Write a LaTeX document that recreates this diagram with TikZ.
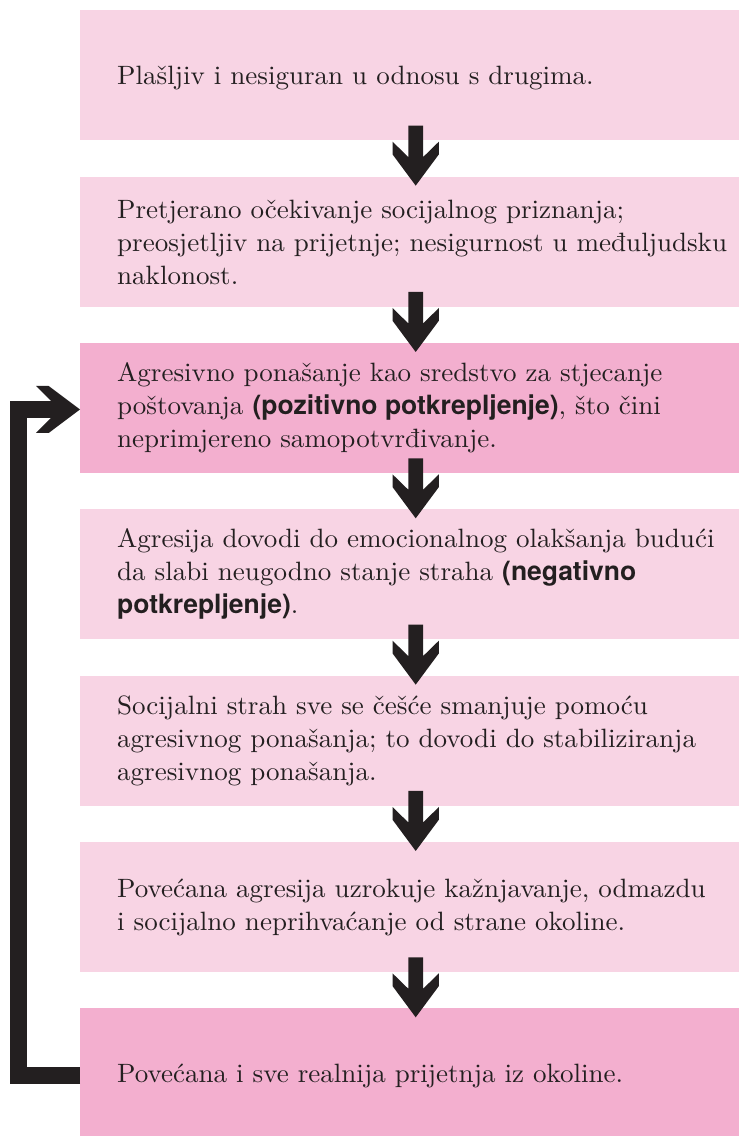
\documentclass[tikz,border=0pt]{standalone}
\usepackage{fontspec}
\setmainfont{lmroman10-regular.otf}[FakeStretch=1.02]
\newfontfamily\hsans{TeX Gyre Heros}
\usetikzlibrary{calc}
\definecolor{ink}{HTML}{231F20}
\definecolor{pinkL}{HTML}{F8D4E4}
\definecolor{pinkD}{HTML}{F3AFCF}
\newcommand{\bsx}[1]{{\hsans\bfseries #1}}
\tikzset{
  stagebox/.style={rectangle, draw=none, inner sep=0pt, anchor=north west,
    minimum width=659pt, minimum height=130pt},
  stagetext/.style={anchor=west, inner sep=0pt, align=left, text=ink,
    font=\fontsize{26.5}{33}\selectfont},
  downarr/.pic={\fill[ink] (-7.35,-60) -- (-7.35,-28.5) -- (-23.2,-44) -- (-23.2,-31.3)
      -- (0,0) -- (23.2,-31.3) -- (23.2,-44) -- (7.35,-28.5) -- (7.35,-60) -- cycle;},
  rightarr/.pic={\fill[ink] (-44,-23.5) -- (-31.3,-23.5) -- (0,0) -- (-31.3,23.5)
      -- (-44,23.5) -- (-28.85,8.35) -- (-28.85,-8.35) -- cycle;}
}
\begin{document}
\begin{tikzpicture}[x=1pt,y=-1pt]
\useasboundingbox (0,0) rectangle (739,1136);
\node[stagebox, fill=pinkL] (b1) at (80,10) {};
\node[stagebox, fill=pinkL] (b2) at (80,176.33) {};
\node[stagebox, fill=pinkD] (b3) at (80,342.67) {};
\node[stagebox, fill=pinkL] (b4) at (80,509) {};
\node[stagebox, fill=pinkL] (b5) at (80,675.33) {};
\node[stagebox, fill=pinkL] (b6) at (80,841.67) {};
\node[stagebox, fill=pinkD] (b7) at (80,1008) {};

\node[stagetext] (t1) at ($(b1.west)+(37,3)$) {Plašljiv i nesiguran u odnosu s drugima.};
\node[stagetext] (t2) at ($(b2.west)+(37,1)$) {Pretjerano očekivanje socijalnog priznanja;\\ preosjetljiv na prijetnje; nesigurnost u međuljudsku\\ naklonost.};
\node[stagetext] (t3) at ($(b3.west)+(37,0)$) {Agresivno ponašanje kao sredstvo za stjecanje\\ poštovanja \bsx{(pozitivno potkrepljenje)}, što čini\\ neprimjereno samopotvrđivanje.};
\node[stagetext] (t4) at ($(b4.west)+(37,0)$) {Agresija dovodi do emocionalnog olakšanja budući\\ da slabi neugodno stanje straha \bsx{(negativno}\\ \bsx{potkrepljenje)}.};
\node[stagetext] (t5) at ($(b5.west)+(37,0)$) {Socijalni strah sve se češće smanjuje pomoću\\ agresivnog ponašanja; to dovodi do stabiliziranja\\ agresivnog ponašanja.};
\node[stagetext] (t6) at ($(b6.west)+(37,1)$) {Povećana agresija uzrokuje kažnjavanje, odmazdu\\ i socijalno neprihvaćanje od strane okoline.};
\node[stagetext] (t7) at ($(b7.west)+(37,3)$) {Povećana i sve realnija prijetnja iz okoline.};

\pic at ($(b2.north)+(6,9.3)$) {downarr};
\pic at ($(b3.north)+(6,9.3)$) {downarr};
\pic at ($(b4.north)+(6,9.3)$) {downarr};
\pic at ($(b5.north)+(6,9.3)$) {downarr};
\pic at ($(b6.north)+(6,9.3)$) {downarr};
\pic at ($(b7.north)+(6,9.3)$) {downarr};

\coordinate (fbs) at ($(b7.west)+(0,2.3)$);
\coordinate (fbe) at ($(b3.west)+(0,1.6)$);
\draw[ink, line width=16.7pt, line join=miter] (fbs) -| ($(fbe)+(-61.65,0)$) -- ($(fbe)+(-28,0)$);
\pic at (fbe) {rightarr};
\end{tikzpicture}
\end{document}
